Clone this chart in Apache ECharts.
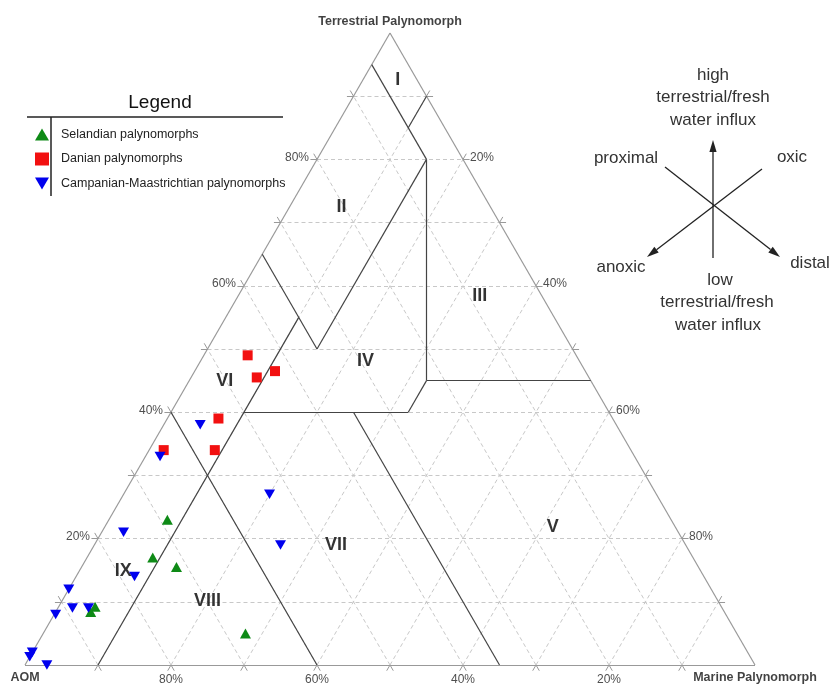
<!DOCTYPE html>
<html><head><meta charset="utf-8">
<script src="https://cdn.jsdelivr.net/npm/echarts@6/dist/echarts.min.js"></script>
<style>html,body{margin:0;padding:0;background:#fff}#c{width:830px;height:686px}</style>
</head><body><div id="c"></div>
<script>
// Ternary triples: [terrestrial, marine, aom] in %
const selandian = [[23,8,69],[17,9,74],[15.5,13,71.5],[9.2,5,85.8],[8.4,4.8,86.8],[5,27.7,67.3]];
const danian = [[49,6,45],[45.5,9,45.5],[46.5,11,42.5],[39,7,54],[34,2,64],[34,9,57]];
const campanian = [[38,5,57],[33,2,65],[27,20,53],[19,25.5,55.5],[21,3,76],[14,8,78],[12,0,88],[8,0.2,91.8],[9,2,89],[9,4.2,86.8],[2,0,98],[1.3,0,98.7],[0,3,97]];
const gridTicks = [10,20,30,40,50,60,70,80,90];
const labelTicks = [20,40,60,80];
const boundaries = [
  [[95,0,5],[80,15,5]],
  [[90,10,0],[85,10,5]],
  [[80,15,5],[45,32.5,22.5]],
  [[45,32.5,22.5],[45,55,0]],
  [[45,32.5,22.5],[40,32.5,27.5]],
  [[40,32.5,27.5],[40,10,50]],
  [[80,15,5],[50,15,35]],
  [[65,0,35],[50,15,35]],
  [[55,10,35],[0,10,90]],
  [[40,0,60],[0,40,60]],
  [[40,25,35],[0,65,35]]
];
const fieldNames = ['I','II','III','IV','V','VI','VII','VIII','IX'];
const fieldPos = [[92.6,4.75,2.65],[72.5,7.1,20.4],[58.4,33.1,8.5],[48.1,22.6,29.3],[21.8,61.4,16.8],[44.9,4.9,50.2],[19,33.1,47.9],[10.1,19.95,69.95],[14.9,6,79.1]];
const axisNames = ['Terrestrial Palynomorph','AOM','Marine Palynomorph'];

const S3 = Math.sqrt(3)/2;
function xy(p){const t=p[0],m=p[1],a=p[2];const s=t+m+a;return [(m+t/2)/s*100,t*S3/s*100];}

// grid lines
const gridSegs=[];
gridTicks.forEach(v=>{
  gridSegs.push([xy([v,0,100-v]),xy([v,100-v,0])]);
  gridSegs.push([xy([0,v,100-v]),xy([100-v,v,0])]);
  gridSegs.push([xy([0,100-v,v]),xy([100-v,0,v])]);
});
const tickSegs=[];
const L=0.9;
gridSegs.forEach(s=>{
  const P=s[0],Q=s[1];
  const dx=P[0]-Q[0],dy=P[1]-Q[1];const d=Math.hypot(dx,dy);
  tickSegs.push([P,[P[0]+dx/d*L,P[1]+dy/d*L]]);
  tickSegs.push([Q,[Q[0]-dx/d*L,Q[1]-dy/d*L]]);
});
const edge=[[xy([0,0,100]),xy([0,100,0])],[xy([0,100,0]),xy([100,0,0])],[xy([100,0,0]),xy([0,0,100])]];

const font='"Liberation Sans", Arial, sans-serif';
const UP='path://M5,0L10,8.66L0,8.66Z';
const DOWN='path://M0,0L10,0L5,8.66Z';

function labelSeries(points,texts,lbl){
  return {type:'scatter',symbolSize:1,itemStyle:{color:'rgba(0,0,0,0)'},silent:true,z:5,
    data:points.map((p,i)=>({value:p,label:Object.assign({show:true,formatter:texts[i],position:'inside',fontFamily:font},lbl)}))};
}

function arrow(x1,y1,x2,y2){
  const dx=x2-x1,dy=y2-y1,d=Math.hypot(dx,dy),ux=dx/d,uy=dy/d;
  const hl=12,hw=3.6;
  const bx=x2-ux*hl,by=y2-uy*hl;
  return [
    {type:'line',shape:{x1:x1,y1:y1,x2:bx,y2:by},style:{stroke:'#222',lineWidth:1.3}},
    {type:'polygon',shape:{points:[[x2,y2],[bx-uy*hw,by+ux*hw],[bx+uy*hw,by-ux*hw]]},style:{fill:'#222'}}
  ];
}
function txt(x,y,s,size,col,weight){return {type:'text',x:x,y:y,style:{text:s,fontSize:size,fontFamily:font,fill:col||'#333',fontWeight:weight||'normal',textAlign:'center',textVerticalAlign:'middle'}};}

const graphic=[
  txt(160,103,'Legend',19,'#111'),
  {type:'line',shape:{x1:27,y1:117,x2:283,y2:117},style:{stroke:'#222',lineWidth:1.5}},
  {type:'line',shape:{x1:51,y1:117,x2:51,y2:196},style:{stroke:'#222',lineWidth:1.5}},
  ...arrow(713,258,713,140),
  ...arrow(665,167,780,257),
  ...arrow(762,169,647,257),
  txt(713,75,'high',17),txt(713,97,'terrestrial/fresh',17),txt(713,120,'water influx',17),
  txt(626,158,'proximal',17),txt(792,157,'oxic',17),
  txt(621,267,'anoxic',17),txt(810,263,'distal',17),
  txt(720,280,'low',17),txt(717,302,'terrestrial/fresh',17),txt(718,325,'water influx',17)
];

const series=[
  {type:'lines',coordinateSystem:'cartesian2d',silent:true,clip:false,z:1,
    lineStyle:{color:'#c8c8c8',width:1,type:[4,3],opacity:1},data:gridSegs.map(c=>({coords:c}))},
  {type:'lines',coordinateSystem:'cartesian2d',silent:true,clip:false,z:2,
    lineStyle:{color:'#999',width:1,type:'solid',opacity:1},data:tickSegs.map(c=>({coords:c}))},
  {type:'lines',coordinateSystem:'cartesian2d',silent:true,clip:false,z:2,
    lineStyle:{color:'#999',width:1.2,type:'solid',opacity:1},data:edge.map(c=>({coords:c}))},
  {type:'lines',coordinateSystem:'cartesian2d',silent:true,clip:false,z:3,
    lineStyle:{color:'#444',width:1.2,type:'solid',opacity:1},data:boundaries.map(b=>({coords:b.map(xy)}))},
  labelSeries(fieldPos.map(xy),fieldNames,{fontSize:18,fontWeight:'bold',color:'#000'}),
  labelSeries(labelTicks.map(a=>xy([0,100-a,a])),labelTicks.map(a=>a+'%'),{fontSize:12,color:'#222',offset:[0,15]}),
  labelSeries(labelTicks.map(t=>xy([t,0,100-t])),labelTicks.map(t=>t+'%'),{fontSize:12,color:'#222',align:'right',offset:[-8,-2]}),
  labelSeries(labelTicks.map(t=>xy([t,100-t,0])),labelTicks.map(t=>(100-t)+'%'),{fontSize:12,color:'#222',align:'left',offset:[7,-2]}),
  labelSeries([xy([100,0,0])],[axisNames[0]],{fontSize:12.5,fontWeight:'bold',color:'#111',offset:[0,-11]}),
  labelSeries([xy([0,0,100])],[axisNames[1]],{fontSize:12.5,fontWeight:'bold',color:'#111',offset:[0,13]}),
  labelSeries([xy([0,100,0])],[axisNames[2]],{fontSize:12.5,fontWeight:'bold',color:'#111',offset:[0,13]}),
  {name:'Selandian palynomorphs',type:'scatter',symbol:UP,symbolSize:[11,10],z:10,clip:false,
    itemStyle:{color:'#0e8a16',opacity:1},data:selandian.map(xy)},
  {name:'Danian palynomorphs',type:'scatter',symbol:'rect',symbolSize:10,z:10,clip:false,
    itemStyle:{color:'#f21010',opacity:1},data:danian.map(xy)},
  {name:'Campanian-Maastrichtian palynomorphs',type:'scatter',symbol:DOWN,symbolSize:[11,9.5],z:10,clip:false,
    itemStyle:{color:'#0000ee',opacity:1},data:campanian.map(xy)}
];

const chart=echarts.init(document.getElementById('c'),null,{renderer:'canvas'});
chart.setOption({
  animation:false,
  backgroundColor:'#fff',
  grid:{left:25,top:33,width:730,height:632},
  xAxis:{type:'value',min:0,max:100,show:false},
  yAxis:{type:'value',min:0,max:100*S3,show:false},
  legend:{data:['Selandian palynomorphs','Danian palynomorphs','Campanian-Maastrichtian palynomorphs'],
    orient:'vertical',left:30,top:123,itemWidth:14,itemHeight:13,itemGap:11.5,selectedMode:false,
    textStyle:{fontSize:12.5,color:'#222',fontFamily:font,padding:[0,0,0,7]}},
  tooltip:{show:false},
  graphic:graphic,
  series:series
});
</script></body></html>
